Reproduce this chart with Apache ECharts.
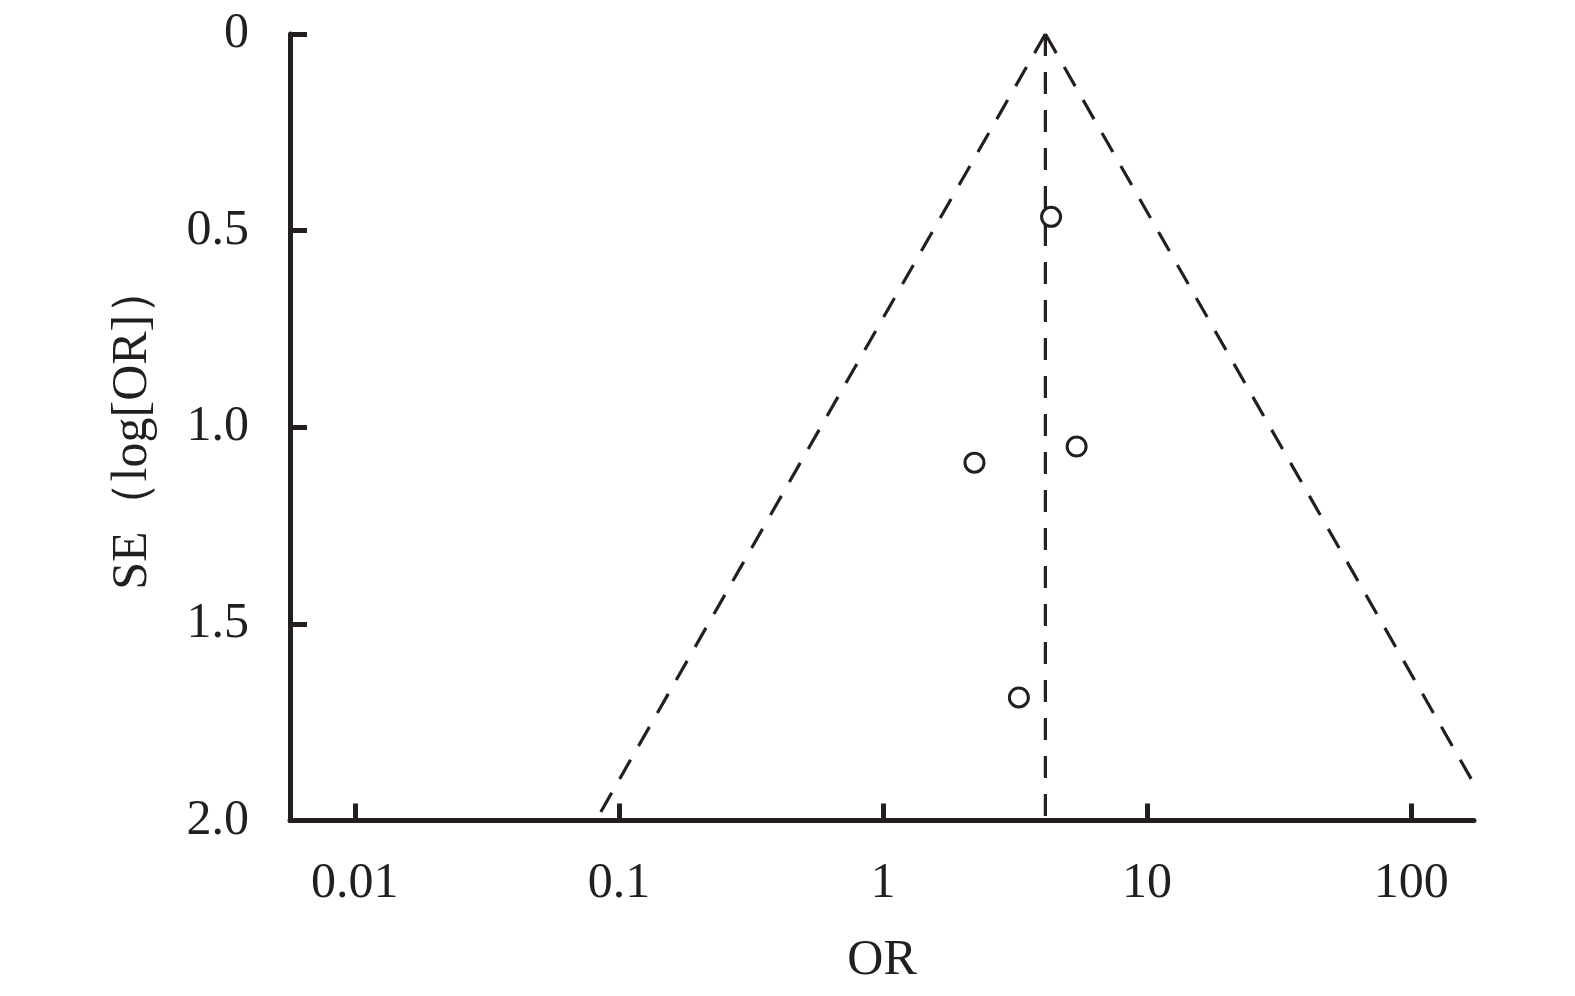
<!DOCTYPE html>
<html>
<head>
<meta charset="utf-8">
<script src="https://cdn.jsdelivr.net/npm/echarts@6/dist/echarts.min.js"></script>
<style>html,body{margin:0;padding:0;background:#fff}#c{width:1575px;height:996px}</style>
</head>
<body>
<div id="c"></div>
<script>
// Data
const xTicks = [0.01, 0.1, 1, 10, 100];
const yTicks = [0, 0.5, 1.0, 1.5, 2.0];
const studyOR = [4.33, 2.22, 5.41, 3.27];
const studySE = [0.465, 1.09, 1.049, 1.687];
const pooledOR = 4.12;
const funnelLeft = [[4.12, 0], [0.0818, 2.0]];
const funnelRight = [[4.12, 0], [173, 1.907]];
const pooledLine = [[4.12, 0], [4.12, 2.0]];
const xRange = [0.00568, 173];

const ink = '#231f20';
const font = '"Liberation Serif", "Times New Roman", serif';
const chart = echarts.init(document.getElementById('c'), null, {renderer: 'canvas'});
const dashStyle = {color: ink, width: 3.2, type: [22, 16]};
chart.setOption({
  animation: false,
  backgroundColor: '#fff',
  grid: {left: 290, right: 101, top: 34, bottom: 175.5},
  xAxis: {
    type: 'log', logBase: 10, min: xRange[0], max: xRange[1], position: 'bottom',
    name: 'OR', nameLocation: 'middle', nameGap: 115,
    nameTextStyle: {fontFamily: font, fontSize: 50, color: ink},
    axisLine: {show: true, onZero: false, lineStyle: {color: ink, width: 5}},
    axisTick: {show: true, inside: true, length: 17, lineStyle: {color: ink, width: 5}, customValues: xTicks},
    axisLabel: {fontFamily: font, fontSize: 50, color: ink, margin: 38, customValues: xTicks,
      formatter: v => String(v)},
    minorTick: {show: false},
    splitLine: {show: false}
  },
  yAxis: {
    type: 'value', inverse: true, min: 0, max: 2, interval: 0.5,
    name: 'SE（log[OR]）', nameLocation: 'middle', nameGap: 132, nameRotate: 90,
    nameTextStyle: {fontFamily: font, fontSize: 50, color: ink},
    axisLine: {show: true, onZero: false, lineStyle: {color: ink, width: 5}},
    axisTick: {show: true, inside: true, length: 17, lineStyle: {color: ink, width: 5}},
    axisLabel: {fontFamily: font, fontSize: 50, color: ink, margin: 41,
      formatter: v => v === 0 ? '0' : v.toFixed(1)},
    splitLine: {show: false}
  },
  series: [
    {type: 'line', data: funnelLeft, symbol: 'none', lineStyle: dashStyle, z: 2},
    {type: 'line', data: funnelRight, symbol: 'none', lineStyle: dashStyle, z: 2},
    {type: 'line', data: pooledLine, symbol: 'none', lineStyle: dashStyle, z: 2},
    {type: 'scatter', data: studyOR.map((v, i) => [v, studySE[i]]), symbol: 'circle', symbolSize: 19,
      itemStyle: {color: '#fff', borderColor: ink, borderWidth: 3, opacity: 1}, z: 3}
  ]
});
</script>
</body>
</html>
